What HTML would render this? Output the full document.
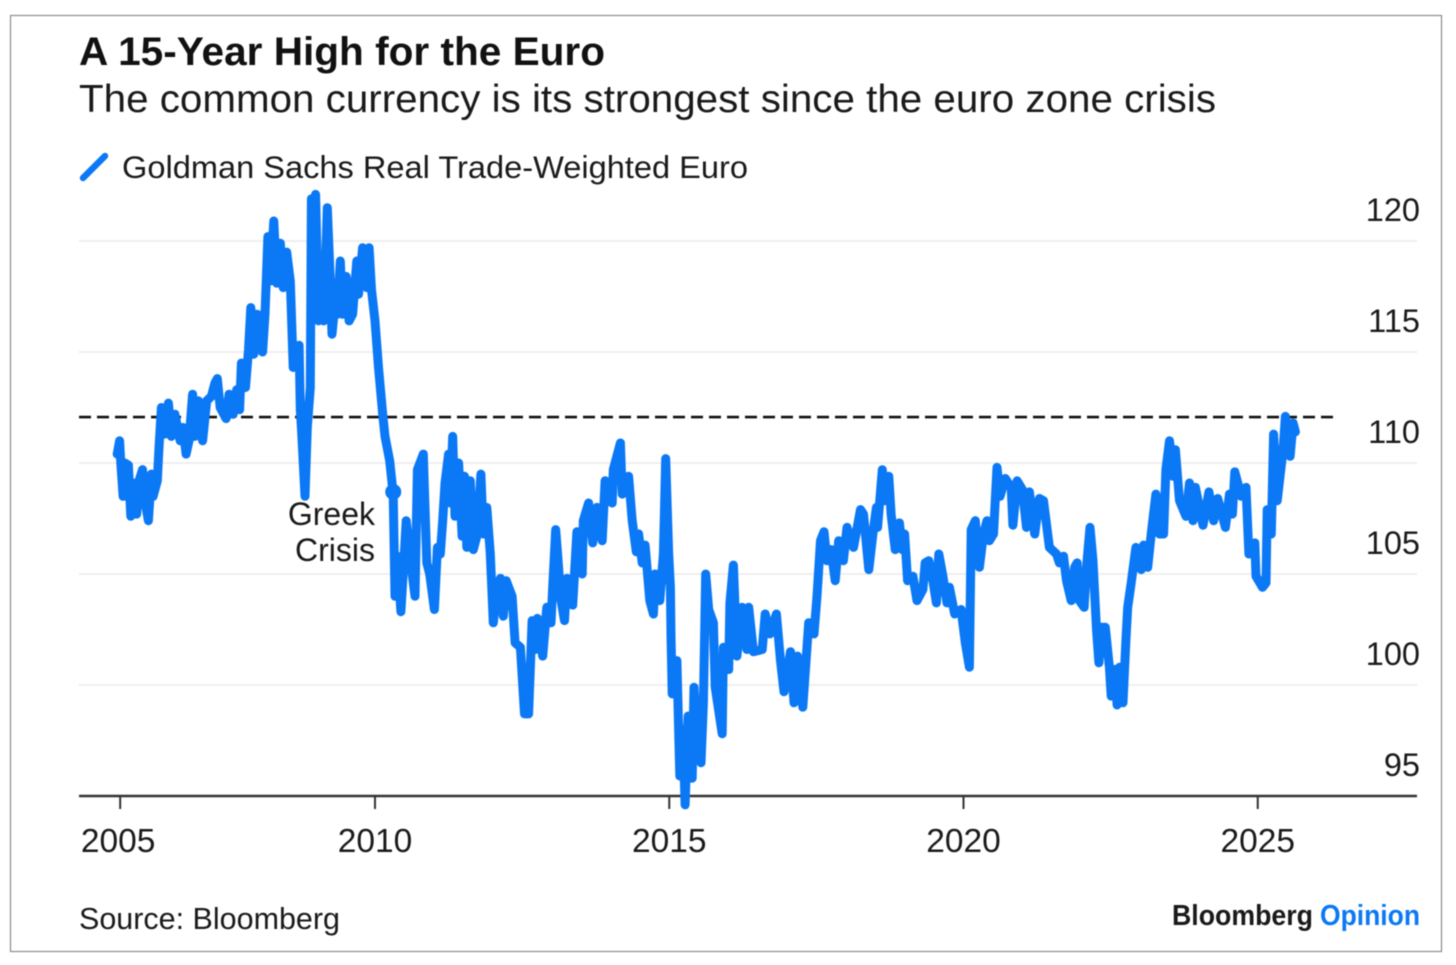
<!DOCTYPE html>
<html lang="en">
<head>
<meta charset="utf-8">
<title>A 15-Year High for the Euro</title>
<style>
  html, body { margin: 0; padding: 0; background: #fff; }
  body { width: 1456px; height: 965px; overflow: hidden; font-family: "Liberation Sans", sans-serif; }
  svg { display: block; filter: blur(0.4px); }
  text { font-family: "Liberation Sans", sans-serif; fill: #1a1a1a; }
</style>
</head>
<body>
<svg id="chart" xmlns="http://www.w3.org/2000/svg" width="1456" height="965" viewBox="0 0 1456 965">
  <rect x="10.5" y="15.5" width="1431" height="936" fill="#fff" stroke="#8c8c8c" stroke-width="1.2"/>
  <text x="79" y="65" font-size="40" font-weight="700" textLength="526" lengthAdjust="spacingAndGlyphs" style="fill:#111">A 15-Year High for the Euro</text>
  <text x="79" y="112" font-size="38.5" textLength="1137" lengthAdjust="spacingAndGlyphs">The common currency is its strongest since the euro zone crisis</text>
  <line x1="83" y1="178" x2="105" y2="156" stroke="#0b78f5" stroke-width="6.5" stroke-linecap="round"/>
  <text x="122" y="178" font-size="31.5" textLength="626" lengthAdjust="spacingAndGlyphs">Goldman Sachs Real Trade-Weighted Euro</text>
  <g id="grid"></g>
  <g id="yaxis"></g>
  <g id="xaxis"></g>
  <g id="plot"></g>
  <text x="375" y="525" font-size="32" text-anchor="end">Greek</text>
  <text x="375" y="561" font-size="32" text-anchor="end">Crisis</text>
  <text x="79" y="929" font-size="30.5" textLength="261" lengthAdjust="spacingAndGlyphs">Source: Bloomberg</text>
  <text x="1172" y="925" font-size="28.5" font-weight="700" textLength="141" lengthAdjust="spacingAndGlyphs" style="fill:#1a1a1a">Bloomberg</text>
  <text x="1320" y="925" font-size="28.5" font-weight="700" textLength="100" lengthAdjust="spacingAndGlyphs" style="fill:#0b78f5">Opinion</text>
</svg>
<script>
const dates = [
2005.62,2005.66,2005.68,2005.72,2005.75,2005.81,2005.85,2005.89,2005.95,2005.99,2006.05,2006.09,2006.15,2006.20,2006.23,2006.30,2006.33,2006.37,2006.43,2006.49,2006.54,2006.60,2006.69,2006.74,2006.79,2006.84,2006.90,2006.94,2007.00,2007.07,2007.14,2007.22,2007.28,2007.32,2007.37,2007.47,2007.52,2007.59,2007.65,2007.70,2007.73,2007.80,2007.85,2007.89,2007.94,2008.00,2008.09,2008.13,2008.18,2008.22,2008.28,2008.33,2008.39,2008.44,2008.50,2008.56,2008.61,2008.67,2008.71,2008.73,2008.75,2008.81,2008.85,2008.90,2008.92,2008.95,2008.99,2009.04,2009.09,2009.13,2009.19,2009.24,2009.27,2009.33,2009.36,2009.41,2009.45,2009.51,2009.56,2009.62,2009.69,2009.72,2009.79,2009.86,2009.90,2009.94,2010.00,2010.06,2010.13,2010.17,2010.25,2010.31,2010.34,2010.38,2010.44,2010.49,2010.53,2010.59,2010.68,2010.72,2010.82,2010.88,2010.93,2011.01,2011.06,
2011.11,2011.15,2011.19,2011.25,2011.28,2011.32,2011.36,2011.42,2011.48,2011.52,2011.56,2011.62,2011.67,2011.74,2011.80,2011.84,2011.90,2011.96,2012.01,2012.06,2012.13,2012.18,2012.23,2012.33,2012.38,2012.47,2012.54,2012.61,2012.67,2012.72,2012.76,2012.85,2012.92,2012.99,2013.02,2013.07,2013.12,2013.15,2013.22,2013.26,2013.36,2013.43,2013.52,2013.54,2013.63,2013.70,2013.77,2013.86,2013.91,2014.03,2014.05,2014.17,2014.20,2014.31,2014.37,2014.44,2014.48,2014.54,2014.59,2014.67,2014.73,2014.76,2014.84,2014.90,2014.94,2014.99,2015.02,2015.03,2015.05,2015.13,2015.18,2015.23,2015.27,2015.32,2015.39,2015.42,2015.48,2015.54,2015.58,2015.62,2015.67,2015.75,2015.78,2015.90,2015.92,2016.01,2016.03,2016.09,2016.15,2016.24,2016.32,2016.35,2016.43,2016.58,2016.63,2016.71,2016.82,2016.89,2016.95,2017.06,2017.12,2017.18,2017.27,2017.37,2017.46,2017.51,2017.57,2017.63,2017.68,2017.75,2017.82,2017.88,2017.96,2018.02,2018.13,2018.25,
2018.30,2018.39,2018.46,2018.52,2018.54,2018.62,2018.66,2018.73,2018.77,2018.84,2018.91,2018.96,2019.00,2019.05,2019.14,2019.21,2019.31,2019.35,2019.41,2019.48,2019.54,2019.58,2019.65,2019.72,2019.76,2019.85,2019.96,2020.03,2020.10,2020.13,2020.20,2020.27,2020.34,2020.40,2020.44,2020.51,2020.57,2020.62,2020.71,2020.81,2020.84,2020.91,2021.00,2021.07,2021.12,2021.21,2021.29,2021.36,2021.46,2021.58,2021.63,2021.70,2021.75,2021.83,2021.89,2021.93,2021.97,2022.05,2022.09,2022.15,2022.20,2022.26,2022.30,2022.34,2022.41,2022.48,2022.51,2022.57,2022.61,2022.65,2022.71,2022.76,2022.79,2022.85,2022.93,2023.02,2023.06,2023.13,2023.19,2023.27,2023.33,2023.40,2023.44,2023.50,2023.56,2023.60,2023.67,2023.78,2023.84,2023.90,2023.94,2024.07,2024.17,2024.25,2024.32,2024.45,2024.52,2024.57,2024.61,2024.72,2024.80,2024.85,2024.95,2024.97,2025.08,2025.14,2025.16,2025.23,2025.27,2025.33,2025.43,2025.47,2025.55,2025.60,2025.64
];
const euroValues = [
110.4,111.0,110.0,108.5,110.0,109.9,107.6,109.1,107.7,109.2,109.7,108.3,107.4,109.5,108.5,109.2,110.7,112.5,111.3,112.7,111.2,112.2,111.0,111.6,110.4,111.0,113.1,111.2,112.8,111.0,112.8,113.0,113.6,113.8,112.5,112.0,113.1,112.2,113.3,112.4,114.5,113.4,115.1,117.0,114.9,116.7,115.0,116.7,120.2,118.2,120.9,118.1,119.9,117.9,119.5,118.2,114.3,115.2,115.3,112.4,111.6,108.5,111.6,113.4,121.9,118.2,122.1,116.4,118.4,116.4,121.5,118.2,115.8,117.5,116.7,119.1,116.7,118.4,116.4,116.7,119.1,117.6,119.7,117.9,119.7,117.8,116.4,114.3,112.2,111.2,110.1,108.6,104.0,105.8,103.3,105.5,107.4,105.9,104.0,109.7,110.4,105.5,105.0,103.4,106.2,
105.9,107.4,109.1,110.4,108.2,111.2,107.6,110.0,106.7,109.4,106.2,109.2,106.1,106.8,109.5,106.8,108.0,105.9,102.8,104.1,104.8,103.1,104.7,104.0,101.9,101.7,98.7,98.7,102.9,101.6,103.0,101.3,103.5,102.8,104.4,107.0,105.3,104.0,102.9,104.8,103.6,106.9,105.0,107.4,108.2,106.4,108.0,106.5,109.2,108.2,109.7,110.9,108.6,109.4,107.4,106.0,106.8,105.5,106.3,103.8,103.2,105.0,103.8,105.9,110.2,105.9,104.4,102.2,99.6,101.1,95.9,98.0,94.6,98.6,95.8,99.9,97.0,96.5,99.2,105.0,103.4,102.8,99.9,97.8,101.7,100.7,103.7,105.4,101.3,103.5,101.6,103.5,101.5,101.6,103.2,102.3,103.2,101.1,99.7,101.5,99.2,101.3,99.0,102.8,102.3,104.0,106.5,106.9,105.6,106.1,104.7,106.5,105.6,107.1,106.2,107.9,
107.7,105.2,106.8,108.0,107.1,109.7,108.3,109.4,107.7,106.1,107.3,106.1,106.8,104.7,104.9,103.8,104.3,105.5,105.6,104.7,103.7,105.9,104.9,103.7,104.4,103.2,103.4,101.9,100.8,107.0,107.4,105.3,106.8,107.4,106.5,106.8,109.8,108.5,109.3,108.9,107.2,109.2,108.8,107.1,108.7,106.8,108.4,108.3,106.2,105.9,105.5,105.8,104.7,103.8,105.3,105.5,103.8,103.5,105.3,107.1,105.6,102.5,101.0,102.6,102.6,100.8,99.5,100.7,99.1,100.8,99.2,102.0,103.5,104.6,106.2,105.2,106.3,105.3,106.8,108.6,106.8,106.8,109.7,111.0,109.4,110.6,108.3,107.6,109.1,107.4,108.9,107.2,108.7,107.4,108.4,107.1,108.6,107.7,109.6,108.5,108.9,105.9,106.4,104.9,104.4,104.6,107.9,106.8,111.3,108.3,110.6,112.1,110.3,111.8,111.4
];
const yTickValues = [120, 115, 110, 105, 100, 95];
const xTickDates = [2005.67, 2010, 2015, 2020, 2025];
const xTickLabels = ["2005", "2010", "2015", "2020", "2025"];
const referenceLevel = [112.07];
const crisisMarkerDate = [2010.31];
const crisisMarkerValue = [108.7];

const SVG_NS = "http://www.w3.org/2000/svg";
function xScale(year) { return 375 + (year - 2010) * 58.85; }
function yScale(value) { return 241 + (120 - value) * 22.2; }
function make(tag, attrs, parent) {
  const el = document.createElementNS(SVG_NS, tag);
  for (const k in attrs) el.setAttribute(k, attrs[k]);
  parent.appendChild(el);
  return el;
}
const gridG = document.getElementById("grid");
const yG = document.getElementById("yaxis");
const xG = document.getElementById("xaxis");
const plotG = document.getElementById("plot");

yTickValues.forEach(function (v) {
  if (v !== 95) {
    const gl = make("line", { x1: 79, x2: 1417, y1: yScale(v), y2: yScale(v), stroke: "#eeeeee", "stroke-width": 2 }, gridG);
    
    
  }
  const t = make("text", { x: 1420, y: yScale(v) - 20, "font-size": 32.5, "text-anchor": "end" }, yG);
  t.textContent = String(v);
  
  
});

const baseline = make("line", { x1: 79, x2: 1417, y1: yScale(95), y2: yScale(95), stroke: "#333333", "stroke-width": 2.5 }, xG);



xTickDates.forEach(function (d, i) {
  const tick = make("line", { x1: xScale(d), x2: xScale(d), y1: yScale(95), y2: yScale(95) + 13, stroke: "#333333", "stroke-width": 2 }, xG);
  
  
  const t = make("text", { x: xScale(d) - (i === 0 ? 2 : 0), y: 852, "font-size": 33.5, "text-anchor": "middle" }, xG);
  t.textContent = xTickLabels[i];
  
  
});

const refLine = make("line", { x1: 79, x2: 1335, y1: yScale(referenceLevel[0]), y2: yScale(referenceLevel[0]), stroke: "#111111", "stroke-width": 2.6, "stroke-dasharray": "12 6" }, plotG);



let d = "";
for (let i = 0; i < dates.length; i++) {
  d += (i ? "L" : "M") + xScale(dates[i]).toFixed(1) + " " + yScale(euroValues[i]).toFixed(1);
}
const path = make("path", { d: d, fill: "none", stroke: "#0b78f5", "stroke-width": 9, "stroke-linejoin": "round", "stroke-linecap": "round" }, plotG);



const marker = make("circle", { cx: xScale(crisisMarkerDate[0]), cy: yScale(crisisMarkerValue[0]), r: 8, fill: "#0b78f5" }, plotG);


</script>
</body>
</html>
